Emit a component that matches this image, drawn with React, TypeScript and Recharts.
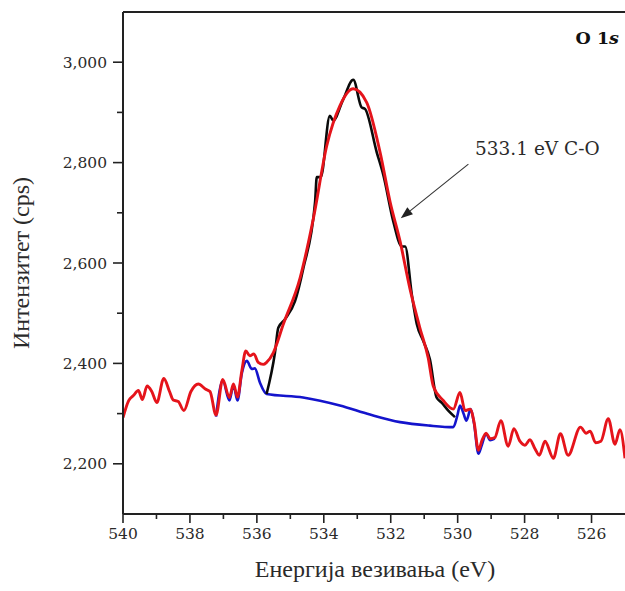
import React from 'react';
import { LineChart, Line, XAxis, YAxis, ReferenceLine, ReferenceDot, Label } from 'recharts';

// Envelope / fitted sum (red), full range
const redEnergy = [540.0, 539.83, 539.69, 539.54, 539.42, 539.28, 539.14, 538.99, 538.78, 538.61, 538.5, 538.35, 538.18, 537.97, 537.75, 537.54, 537.4, 537.22, 537.02, 536.82, 536.7, 536.58, 536.45, 536.33, 536.21, 536.09, 535.96, 535.81, 535.71, 535.51, 535.21, 534.71, 534.31, 533.91, 533.52, 533.12, 532.72, 532.32, 532.02, 531.72, 531.43, 531.13, 530.88, 530.73, 530.43, 530.13, 529.93, 529.78, 529.63, 529.51, 529.38, 529.27, 529.15, 529.03, 528.89, 528.71, 528.49, 528.32, 528.14, 527.99, 527.84, 527.69, 527.56, 527.39, 527.14, 526.93, 526.7, 526.33, 526.16, 526.04, 525.88, 525.72, 525.5, 525.3, 525.15, 525.0];
const redCounts = [2292, 2326, 2336, 2346, 2328, 2355, 2344, 2322, 2370, 2344, 2327, 2324, 2306, 2344, 2359, 2349, 2344, 2297, 2368, 2332, 2359, 2333, 2385, 2425, 2415, 2419, 2402, 2398, 2402, 2421, 2478, 2570, 2689, 2834, 2913, 2947, 2920, 2821, 2722, 2643, 2550, 2471, 2411, 2355, 2326, 2309, 2342, 2306, 2309, 2283, 2227, 2247, 2261, 2250, 2252, 2286, 2235, 2270, 2245, 2237, 2248, 2230, 2217, 2245, 2211, 2260, 2217, 2273, 2261, 2265, 2242, 2245, 2290, 2239, 2268, 2211];

// Measured spectrum in the peak region (black)
const blackEnergy = [535.71, 535.46, 535.36, 535.16, 534.86, 534.61, 534.26, 534.21, 534.09, 533.82, 533.72, 533.42, 533.12, 532.87, 532.77, 532.42, 532.22, 531.92, 531.67, 531.57, 531.37, 531.22, 531.03, 530.83, 530.63, 530.48, 530.28, 530.08];
const blackCounts = [2339, 2421, 2471, 2488, 2524, 2590, 2722, 2771, 2771, 2893, 2884, 2926, 2965, 2910, 2907, 2821, 2775, 2682, 2633, 2633, 2537, 2478, 2445, 2408, 2332, 2322, 2306, 2293];

// Background (blue)
const blueEnergy = [537.22, 537.02, 536.82, 536.7, 536.58, 536.45, 536.3, 536.15, 536.06, 535.91, 535.71, 534.62, 533.52, 532.62, 531.72, 530.83, 530.13, 530.01, 529.93, 529.82, 529.74, 529.61, 529.51, 529.38, 529.28, 529.15, 529.03, 528.89];
const blueCounts = [2294, 2366, 2326, 2357, 2326, 2380, 2405, 2389, 2390, 2362, 2339, 2332, 2316, 2298, 2283, 2276, 2273, 2296, 2316, 2299, 2286, 2309, 2280, 2220, 2237, 2260, 2247, 2250];

const xTicks = [526, 527, 528, 529, 530, 531, 532, 533, 534, 535, 536, 537, 538, 539, 540];
const xMajorTicks = [526, 528, 530, 532, 534, 536, 538, 540];
const yTicks = [2200, 2300, 2400, 2500, 2600, 2700, 2800, 2900, 3000];
const yMajorTicks = [2200, 2400, 2600, 2800, 3000];

const xTitle = 'Енергија везивања (eV)';
const yTitle = 'Интензитет (cps)';
const peakLabel = '533.1 eV C-O';

const zip = (xs: number[], ys: number[]) => xs.map((x, i) => ({ x, y: ys[i] }));
const redData = zip(redEnergy, redCounts);
const blackData = zip(blackEnergy, blackCounts);
const blueData = zip(blueEnergy, blueCounts);

const TICK_FONT = 'DejaVu Serif';
const TITLE_FONT = 'Liberation Serif';
const AXIS = '#222';

const XTick = (props: any) => {
  const { x, y, payload } = props;
  const v = payload.value;
  const major = xMajorTicks.includes(v);
  return (
    <g>
      <line x1={x} x2={x} y1={y} y2={y + (major ? 9 : 5)} stroke={AXIS} strokeWidth={1.6} />
      {major && (
        <text x={x} y={y + 25} textAnchor="middle" fill="#2a2a2a" fontSize={15.5} fontFamily={TICK_FONT}>
          {v}
        </text>
      )}
    </g>
  );
};

const YTick = (props: any) => {
  const { x, y, payload } = props;
  const v = payload.value;
  const major = yMajorTicks.includes(v);
  return (
    <g>
      <line x1={x - (major ? 10 : 6)} x2={x} y1={y} y2={y} stroke={AXIS} strokeWidth={1.6} />
      {major && (
        <text x={x - 16} y={y + 5.5} textAnchor="end" fill="#2a2a2a" fontSize={15.5} fontFamily={TICK_FONT}>
          {v.toLocaleString('en-US')}
        </text>
      )}
    </g>
  );
};

const ArrowShape = (props: any) => {
  const { x1, y1, x2, y2 } = props;
  const dx = x2 - x1;
  const dy = y2 - y1;
  const len = Math.sqrt(dx * dx + dy * dy) || 1;
  const ux = dx / len;
  const uy = dy / len;
  const hl = 12;
  const hw = 4.5;
  const bx = x2 - ux * hl;
  const by = y2 - uy * hl;
  const p1 = `${bx - uy * hw},${by + ux * hw}`;
  const p2 = `${bx + uy * hw},${by - ux * hw}`;
  return (
    <g>
      <line x1={x1} y1={y1} x2={bx} y2={by} stroke="#333" strokeWidth={1.1} />
      <polygon points={`${x2},${y2} ${p1} ${p2}`} fill="#222" />
    </g>
  );
};

export default function App() {
  return (
    <div style={{ position: 'absolute', left: 0, top: 0, width: 625, height: 591, background: '#fff', overflow: 'hidden' }}>
      <LineChart width={625} height={591} margin={{ top: 12, right: 0, bottom: 0, left: 0 }}>
        <XAxis
          dataKey="x"
          type="number"
          domain={[525, 540]}
          reversed
          allowDataOverflow
          ticks={xTicks}
          interval={0}
          tickSize={0}
          tickMargin={0}
          tickLine={false}
          tick={<XTick />}
          height={77}
          axisLine={{ stroke: AXIS, strokeWidth: 2 }}
        >
          <Label
            content={() => (
              <text x={375} y={577} textAnchor="middle" fill="#2a2a2a" fontSize={24} fontFamily={TITLE_FONT}>
                {xTitle}
              </text>
            )}
          />
        </XAxis>
        <YAxis
          type="number"
          domain={[2100, 3100]}
          allowDataOverflow
          ticks={yTicks}
          interval={0}
          tickSize={0}
          tickMargin={0}
          tickLine={false}
          tick={<YTick />}
          width={123}
          axisLine={{ stroke: AXIS, strokeWidth: 2 }}
        >
          <Label
            content={() => (
              <text
                x={29}
                y={263}
                transform="rotate(-90, 29, 263)"
                textAnchor="middle"
                fill="#2a2a2a"
                fontSize={24}
                fontFamily={TITLE_FONT}
              >
                {yTitle}
              </text>
            )}
          />
        </YAxis>
        <ReferenceLine y={3100} stroke={AXIS} strokeWidth={2} ifOverflow="extendDomain" />
        <Line data={blueData} dataKey="y" type="monotone" stroke="#1414cc" strokeWidth={2.6} dot={false} isAnimationActive={false} />
        <Line data={blackData} dataKey="y" type="monotone" stroke="#0a0a0a" strokeWidth={2.6} dot={false} isAnimationActive={false} />
        <Line data={redData} dataKey="y" type="monotone" stroke="#e5141b" strokeWidth={2.9} dot={false} isAnimationActive={false} />
        <ReferenceLine
          segment={[{ x: 529.68, y: 2797 }, { x: 531.7, y: 2689 }]}
          shape={<ArrowShape />}
        />
        <ReferenceDot
          x={529.48}
          y={2815}
          r={0}
          shape={(p: any) => (
            <text x={p.cx} y={p.cy} textAnchor="start" fill="#2a2a2a" fontSize={18.5} fontFamily={TICK_FONT}>
              {peakLabel}
            </text>
          )}
        />
        <ReferenceDot
          x={525.18}
          y={3037}
          r={0}
          shape={(p: any) => (
            <text x={p.cx} y={p.cy} textAnchor="end" fill="#111" fontSize={17.5} fontWeight="bold" fontFamily={TICK_FONT}>
              O 1<tspan fontStyle="italic">s</tspan>
            </text>
          )}
        />
      </LineChart>
    </div>
  );
}
